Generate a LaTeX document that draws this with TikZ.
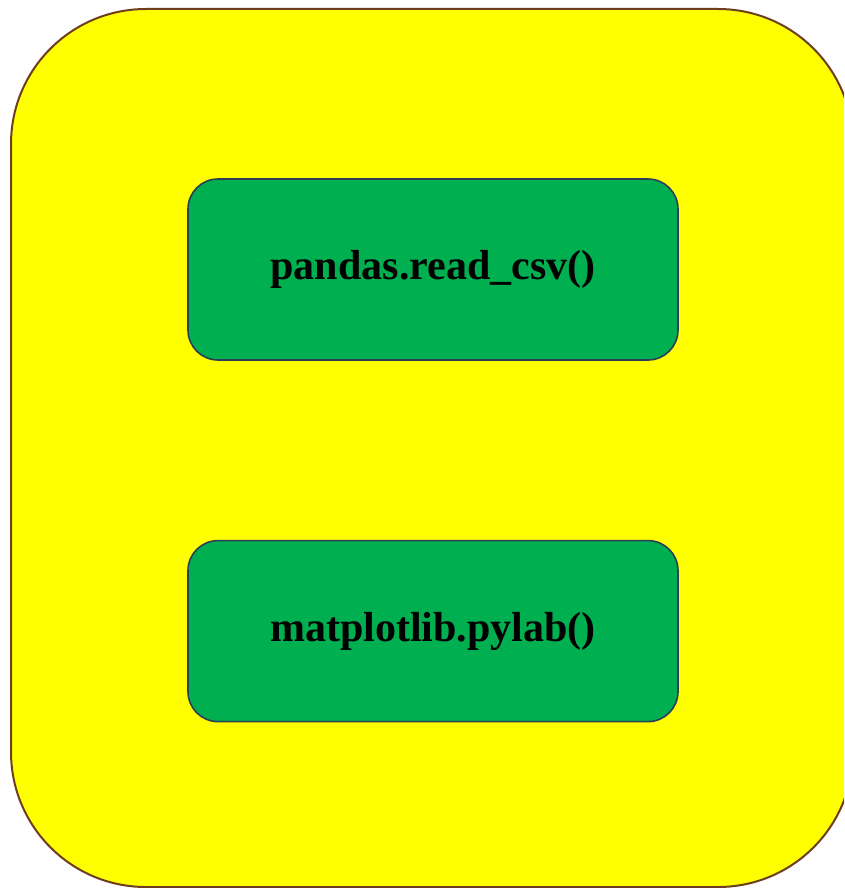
\documentclass[tikz,border=0pt]{standalone}
\usepackage{fontspec}
\setmainfont{Liberation Serif}
\usepackage{tikz}
\usetikzlibrary{positioning}
\definecolor{panelfill}{RGB}{255,255,0}
\definecolor{paneldraw}{RGB}{110,62,30}
\definecolor{stagefill}{RGB}{0,176,80}
\definecolor{stagedraw}{RGB}{44,62,88}

\begin{document}
\begin{tikzpicture}[
  x=1pt, y=-1pt,
  panel/.style={draw=paneldraw, line width=2pt, fill=panelfill, rounded corners=135pt},
  stage/.style={draw=stagedraw, line width=1.6pt, fill=stagefill, rounded corners=30pt,
    minimum width=490pt, minimum height=181pt, inner sep=0pt,
    font=\fontsize{42}{50}\selectfont\bfseries},
]
\useasboundingbox (0,0) rectangle (844,888);
\clip (0,0) rectangle (844,888);
% outer panel runs past the right edge
\draw[panel] (11,9) rectangle (853,887);
\node[stage] (csv) at (433,269.5) {pandas.read\_csv()};
\node[stage, below=179pt of csv] (plot) {matplotlib.pylab()};
\end{tikzpicture}
\end{document}
